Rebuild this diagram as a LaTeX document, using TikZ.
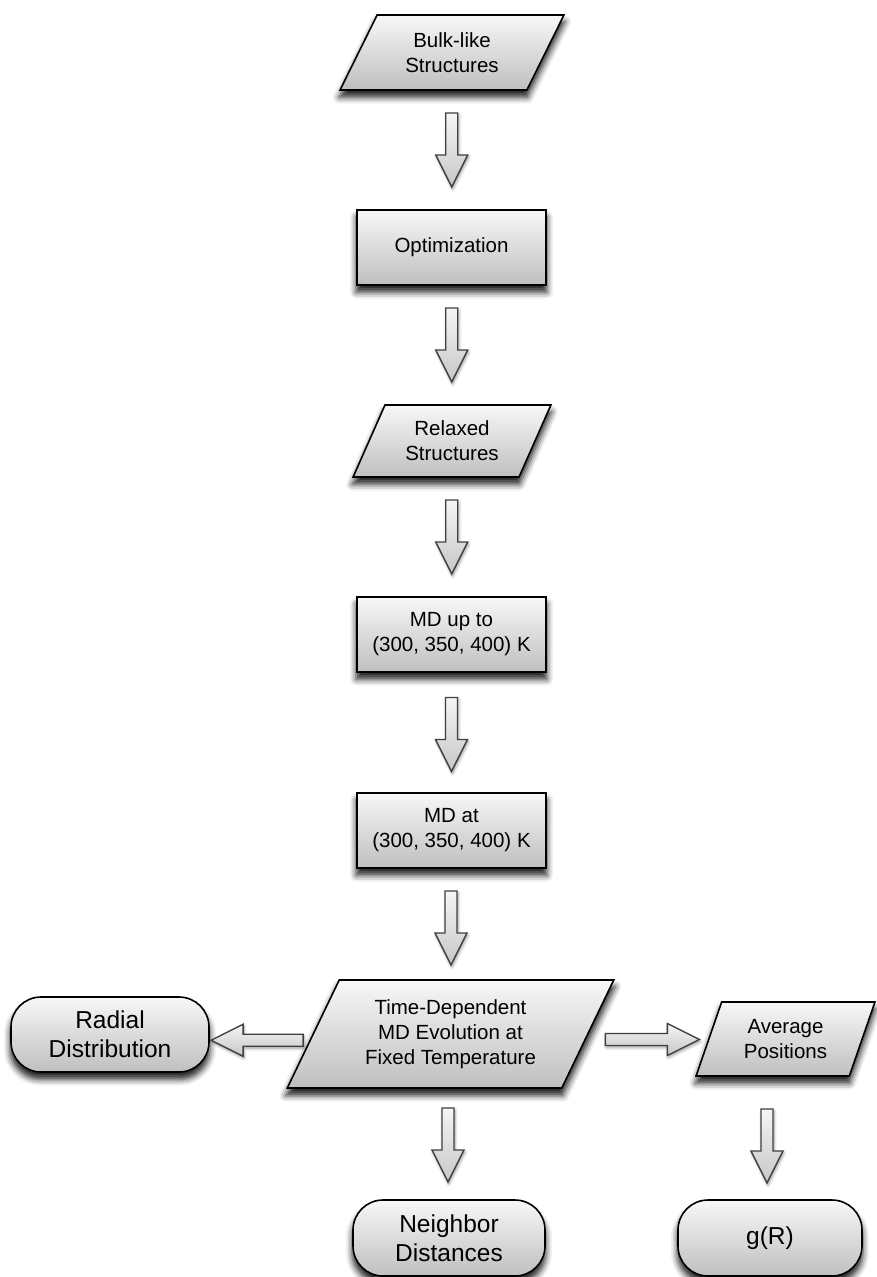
\documentclass[tikz,border=0pt]{standalone}
\usepackage{fontspec}
\setmainfont{Liberation Sans}
\usetikzlibrary{shapes.geometric,shadows.blur,calc}
\tikzset{
  base/.style={draw=black, line width=1.6pt, top color=black!3, bottom color=black!25,
    align=center, inner sep=0pt, font=\fontsize{20.5}{25}\selectfont,
    blur shadow={shadow xshift=0pt, shadow yshift=-7pt, shadow blur radius=6pt, shadow opacity=85, shadow scale=1.01}},
  proc/.style={base, rectangle, minimum width=189pt, minimum height=75pt},
  io/.style={base, trapezium, trapezium stretches=true},
  term/.style={base, rectangle, rounded corners=30pt, font=\fontsize{24.5}{29}\selectfont},
  arrowstyle/.style={draw=black!75, line width=1.4pt, top color=black!4, bottom color=black!22,
    line join=miter,
    blur shadow={shadow xshift=1pt, shadow yshift=-2pt, shadow blur radius=3pt, shadow opacity=40}},
  pics/barrow/.style={code={
    \path[arrowstyle] ({-#1/2},-6) -- ({#1/2-32},-6) -- ({#1/2-32},-16) -- ({#1/2},0)
      -- ({#1/2-32},16) -- ({#1/2-32},6) -- ({-#1/2},6) -- cycle;
  }}
}
\begin{document}
\begin{tikzpicture}[x=1pt,y=-1pt]
\useasboundingbox (0,0) rectangle (876,1277);

\node[io, minimum width=224pt, minimum height=75pt, trapezium left angle=60, trapezium right angle=120] (bulk) at (452,52.5) {Bulk-like\\Structures};
\node[proc] (opt) at (451.5,247.5) {Optimization};
\node[io, minimum width=198pt, minimum height=72pt, trapezium left angle=61, trapezium right angle=119] (rel) at (452,441) {Relaxed\\Structures};
\node[proc] (mdup) at (451.5,634.5) {MD up to\\(300, 350, 400) K};
\node[proc] (mdat) at (451.5,830.5) {MD at\\(300, 350, 400) K};
\node[io, minimum width=327pt, minimum height=108pt, trapezium left angle=60, trapezium right angle=120] (td) at (450.5,1034) {Time-Dependent\\MD Evolution at\\Fixed Temperature};
\node[io, minimum width=179pt, minimum height=74pt, trapezium left angle=67, trapezium right angle=113] (avg) at (785.5,1039) {Average\\Positions};
\node[term, minimum width=198pt, minimum height=75pt] (rad) at (110,1034.5) {Radial\\Distribution};
\node[term, minimum width=192pt, minimum height=76pt] (nb) at (449,1238) {Neighbor\\Distances};
\node[term, minimum width=184pt, minimum height=76pt] (gr) at (770,1238) {g(R)};

\pic[rotate=-90] at ($(bulk.south)!0.5!(opt.north)$) {barrow=74};
\pic[rotate=-90] at ($(opt.south)!0.5!(rel.north)$) {barrow=74};
\pic[rotate=-90] at ($(rel.south)!0.5!(mdup.north)$) {barrow=74};
\pic[rotate=-90] at ($($(mdup.south)!0.5!(mdat.north)$)+(0,2)$) {barrow=74};
\pic[rotate=-90] at ($($(mdat.south)!0.5!(td.north)$)+(0,4)$) {barrow=74};
\pic[rotate=-90] at ($($(td.south -| nb.north)!0.5!(nb.north)$)+(-1,1)$) {barrow=74};
\pic[rotate=-90] at ($($(avg.south -| gr.north)!0.5!(gr.north)$)+(-3,8)$) {barrow=74};
\pic[rotate=180] at ($($(td.west)!0.5!(rad.east)$)+(-4,6)$) {barrow=92};
\pic at ($($(td.east)!0.5!(avg.west)$)+(4,3)$) {barrow=94};
\end{tikzpicture}
\end{document}
